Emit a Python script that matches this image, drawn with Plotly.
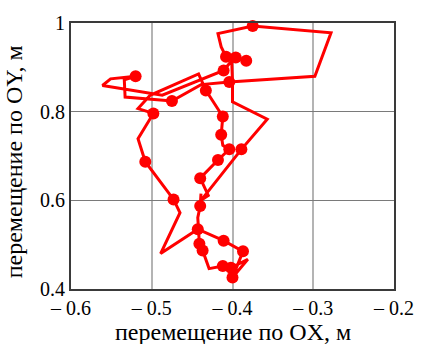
import plotly.graph_objects as go

# Trajectory of the point (path through all recorded positions)
path_x = [-0.383, -0.396, -0.408, -0.414, -0.418, -0.375, -0.278, -0.298, -0.404, -0.439,
          -0.475, -0.533, -0.534, -0.520, -0.551, -0.561, -0.487, -0.411, -0.401, -0.400,
          -0.400, -0.357, -0.389, -0.439, -0.430, -0.440, -0.418, -0.404, -0.412, -0.414,
          -0.412, -0.433, -0.442, -0.502, -0.517, -0.498, -0.517, -0.508, -0.473, -0.465,
          -0.489, -0.443, -0.411, -0.387, -0.400, -0.381, -0.402, -0.412, -0.429, -0.437,
          -0.441, -0.443, -0.440, -0.439]
path_y = [0.915, 0.922, 0.924, 0.946, 0.976, 0.993, 0.978, 0.880, 0.867, 0.861,
          0.824, 0.833, 0.872, 0.880, 0.874, 0.859, 0.837, 0.893, 0.915, 0.867,
          0.822, 0.783, 0.715, 0.600, 0.611, 0.650, 0.691, 0.715, 0.724, 0.748,
          0.789, 0.848, 0.885, 0.837, 0.807, 0.796, 0.739, 0.687, 0.602, 0.572,
          0.480, 0.535, 0.509, 0.485, 0.426, 0.467, 0.448, 0.452, 0.446, 0.487,
          0.502, 0.561, 0.587, 0.615]

# Sampled positions shown as dots
dots_x = [-0.383, -0.396, -0.408, -0.375, -0.404, -0.475, -0.520, -0.411, -0.389, -0.404,
          -0.414, -0.412, -0.433, -0.498, -0.508, -0.473, -0.443, -0.411, -0.387, -0.400,
          -0.402, -0.412, -0.437, -0.441, -0.440, -0.440, -0.418]
dots_y = [0.915, 0.922, 0.924, 0.993, 0.867, 0.824, 0.880, 0.893, 0.715, 0.715,
          0.748, 0.789, 0.848, 0.796, 0.687, 0.602, 0.535, 0.509, 0.485, 0.426,
          0.448, 0.452, 0.487, 0.502, 0.587, 0.650, 0.691]

x_ticks = [-0.6, -0.5, -0.4, -0.3, -0.2]
x_ticktext = ["\u2013 0.6", "\u2013 0.5", "\u2013 0.4", "\u2013 0.3", "\u2013 0.2"]
y_ticks = [0.4, 0.6, 0.8, 1.0]
y_ticktext = ["0.4", "0.6", "0.8", "1"]

RED = "#ff0000"
FONT = "Liberation Serif"

fig = go.Figure()
fig.add_trace(go.Scatter(x=path_x, y=path_y, mode="lines",
                         line=dict(color=RED, width=3), cliponaxis=False,
                         hoverinfo="skip"))
fig.add_trace(go.Scatter(x=dots_x, y=dots_y, mode="markers",
                         marker=dict(color=RED, size=12, line=dict(width=0)),
                         cliponaxis=False))

fig.update_layout(
    width=426, height=344,
    margin=dict(l=71, r=23, t=13, b=55),
    paper_bgcolor="white", plot_bgcolor="white",
    showlegend=False,
    font=dict(family=FONT, size=20, color="black"),
    xaxis=dict(range=[-0.6, -0.2], tickvals=x_ticks, ticktext=x_ticktext,
               showgrid=True, gridcolor="#b4b4b4", gridwidth=1.5,
               showline=True, linecolor="#3a3a3a", linewidth=2, mirror=True,
               ticks="", zeroline=False, fixedrange=True),
    yaxis=dict(range=[0.4, 1.0], tickvals=y_ticks, ticktext=y_ticktext,
               showgrid=True, gridcolor="#7a7a7a", gridwidth=1,
               showline=True, linecolor="#3a3a3a", linewidth=2, mirror=True,
               ticks="", zeroline=False, fixedrange=True),
    annotations=[
        dict(text="перемещение по OX, м", xref="paper", yref="paper",
             x=0.5, y=-0.162, xanchor="center", yanchor="middle",
             showarrow=False, font=dict(family=FONT, size=24, color="black")),
        dict(text="перемещение по OY, м", xref="paper", yref="paper",
             x=-0.178, y=0.478, xanchor="center", yanchor="middle",
             textangle=-90, showarrow=False,
             font=dict(family=FONT, size=24, color="black")),
    ],
)

fig.write_html("out.html")
